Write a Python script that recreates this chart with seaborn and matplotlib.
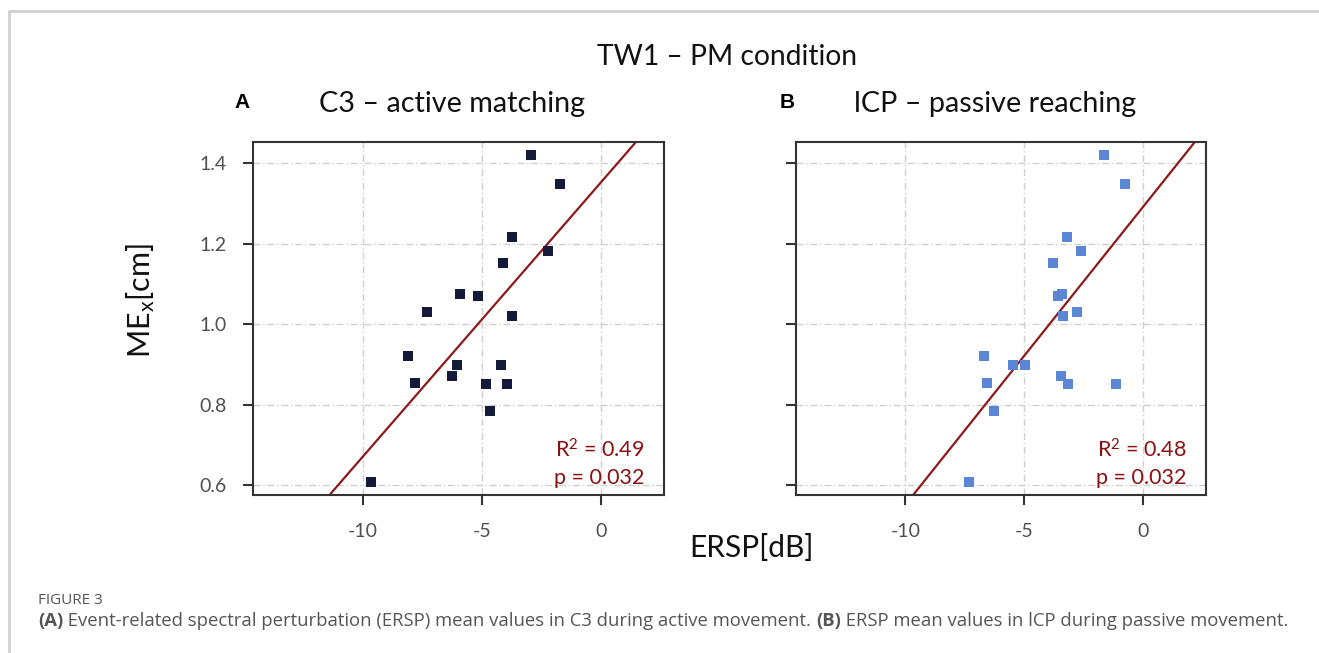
import matplotlib
matplotlib.use("Agg")
import matplotlib.pyplot as plt
import seaborn as sns
import numpy as np
import pandas as pd
from matplotlib.lines import Line2D
from matplotlib.offsetbox import TextArea, HPacker, AnchoredOffsetbox

# ---------------- data ----------------
ersp_a = [-2.95, -1.70, -3.72, -2.22, -4.10, -5.92, -5.18, -7.32, -3.73,
          -8.11, -6.06, -4.21, -6.26, -7.80, -4.84, -3.93, -4.67, -9.66]
me_a = [1.420, 1.348, 1.218, 1.181, 1.152, 1.075, 1.069, 1.031, 1.021,
        0.920, 0.899, 0.899, 0.870, 0.854, 0.851, 0.851, 0.784, 0.608]

ersp_b = [-1.63, -0.77, -3.20, -2.62, -3.81, -3.60, -3.41, -2.78, -3.39,
          -6.70, -5.46, -4.95, -3.46, -6.58, -3.14, -1.12, -6.26, -7.34]
me_b = [1.420, 1.348, 1.218, 1.181, 1.152, 1.069, 1.075, 1.031, 1.021,
        0.920, 0.899, 0.899, 0.870, 0.854, 0.851, 0.851, 0.784, 0.608]

x_ticks = [-10, -5, 0]
x_tick_labels = ["-10", "-5", "0"]
y_ticks = [0.6, 0.8, 1.0, 1.2, 1.4]
y_tick_labels = ["0.6", "0.8", "1.0", "1.2", "1.4"]

panel_titles = ["C3 \u2013 active matching", "lCP \u2013 passive reaching"]
panel_letters = ["A", "B"]
r2_text = ["R$^2$ = 0.49", "R$^2$ = 0.48"]
p_text = ["p = 0.032", "p = 0.032"]
marker_colors = ["#141a3a", "#5a86d5"]

# ---------------- style ----------------
sns.set_style("white")
plt.rcParams["font.family"] = ["Lato", "DejaVu Sans"]
plt.rcParams["mathtext.fontset"] = "custom"
plt.rcParams["mathtext.rm"] = "Lato"
plt.rcParams["mathtext.it"] = "Lato"

W, H = 1319, 653
fig = plt.figure(figsize=(W / 100, H / 100), dpi=100)
fig.patch.set_facecolor("white")

def fx(px):
    return px / W

def fy(py):
    return 1 - py / H

ax_top, ax_bot = 141.7, 495.0
axes_px = [(253.0, 664.0), (795.7, 1206.0)]
line_color = "#8b1a1a"
spine_color = "#333333"

datasets = [(ersp_a, me_a), (ersp_b, me_b)]
for i, ((x0, x1), (xs, ys)) in enumerate(zip(axes_px, datasets)):
    ax = fig.add_axes([fx(x0), fy(ax_bot), (x1 - x0) / W, (ax_bot - ax_top) / H])
    ax.set_xlim(-14.62, 2.65)
    ax.set_ylim(0.575, 1.454)
    df = pd.DataFrame({"ERSP": xs, "ME": ys})
    sns.regplot(data=df, x="ERSP", y="ME", ax=ax, ci=None, truncate=False,
                marker="s",
                scatter_kws=dict(s=42, color=marker_colors[i], linewidths=0,
                                 alpha=1, zorder=3),
                line_kws=dict(color=line_color, lw=1.6, zorder=2))
    ax.set_xlim(-14.62, 2.65)
    ax.set_ylim(0.575, 1.454)
    ax.set_xticks(x_ticks)
    ax.set_xticklabels(x_tick_labels)
    ax.set_yticks(y_ticks)
    if i == 0:
        ax.set_yticklabels(y_tick_labels)
    else:
        ax.set_yticklabels([])
    ax.set_xlabel("")
    ax.set_ylabel("")
    ax.grid(True, color="#cfcfcf", lw=1.0, linestyle=(0, (5, 2, 1, 2)), zorder=0)
    ax.set_axisbelow(True)
    for sp in ax.spines.values():
        sp.set_visible(True)
        sp.set_color(spine_color)
        sp.set_linewidth(1.5)
    ax.tick_params(axis="both", which="both", direction="out", length=7,
                   width=1.5, color=spine_color, labelcolor="#505050",
                   labelsize=14, bottom=True, left=True, top=False, right=False)
    ax.tick_params(axis="y", pad=12)
    ax.tick_params(axis="x", pad=13)
    ax.text(0.953, (ax_bot - 450) / (ax_bot - ax_top), r2_text[i],
            transform=ax.transAxes, ha="right", va="center", color="#8b1010",
            fontsize=15.5)
    ax.text(0.953, (ax_bot - 478) / (ax_bot - ax_top), p_text[i],
            transform=ax.transAxes, ha="right", va="center", color="#8b1010",
            fontsize=15.5)
    # panel title and letter
    fig.text(fx((x0 + x1) / 2 - 6), fy(104), panel_titles[i], ha="center",
             va="center", fontsize=20.7, color="#111111")
    fig.text(fx(242 if i == 0 else 787), fy(102), panel_letters[i],
             ha="center", va="center", fontsize=15, fontweight="bold",
             family=["Liberation Sans", "DejaVu Sans"], color="#000000")

# main title
fig.text(fx(727), fy(57), "TW1 \u2013 PM condition", ha="center", va="center",
         fontsize=20.3, color="#111111")
# axis labels
fig.text(fx(751), fy(548), "ERSP[dB]", ha="center", va="center",
         fontsize=21.5, color="#111111")
fig.text(fx(141), fy(300), r"ME$_{\mathregular{x}}$[cm]", ha="center",
         va="center", rotation=90, fontsize=22, color="#111111")

# caption
fig.text(fx(38), fy(600), "FIGURE 3", ha="left", va="center", fontsize=11,
         family=["Open Sans", "DejaVu Sans"], color="#555555")
cap_style = dict(fontsize=13.3, family=["Open Sans", "DejaVu Sans"], color="#555555")
parts = [("(A)", "bold"),
         (" Event-related spectral perturbation (ERSP) mean values in C3 during active movement. ", "normal"),
         ("(B)", "bold"),
         (" ERSP mean values in lCP during passive movement.", "normal")]
boxes = [TextArea(t, textprops=dict(fontweight=w, **cap_style)) for t, w in parts]
pack = HPacker(children=boxes, align="baseline", pad=0, sep=0)
ab = AnchoredOffsetbox(loc="center left", child=pack, pad=0, frameon=False,
                       bbox_to_anchor=(fx(38), fy(621)),
                       bbox_transform=fig.transFigure, borderpad=0)
fig.add_artist(ab)

# figure frame lines
fig.add_artist(Line2D([fx(8.5), 1.0], [fy(10.5), fy(10.5)], color="#d0d0d0",
                      lw=2, transform=fig.transFigure))
fig.add_artist(Line2D([fx(8.5), fx(8.5)], [0, fy(10.5)], color="#d0d0d0",
                      lw=2, transform=fig.transFigure))

fig.savefig("out.png", dpi=100, facecolor="white")
